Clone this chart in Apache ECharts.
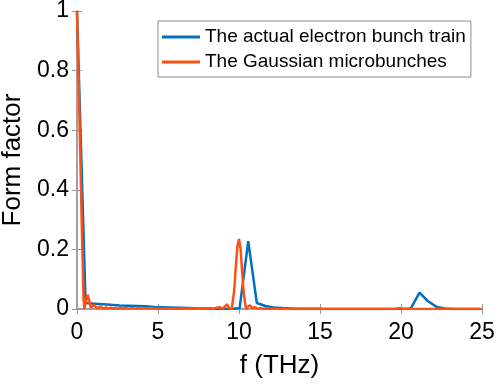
<!DOCTYPE html>
<html>
<head>
<meta charset="utf-8">
<script src="https://cdn.jsdelivr.net/npm/echarts@6/dist/echarts.min.js"></script>
<style>html,body{margin:0;padding:0;background:#fff;}#c{width:498px;height:386px;}</style>
</head>
<body>
<div id="c"></div>
<script>
var seriesNames = ['The actual electron bunch train', 'The Gaussian microbunches'];
var xTicks = [0, 5, 10, 15, 20, 25];
var yTicks = [0, 0.2, 0.4, 0.6, 0.8, 1];

var blueF = [0, 0.53, 1.06, 1.59, 2.11, 2.64, 3.17, 3.70, 4.23, 4.76, 5.29, 5.81, 6.34, 6.87, 7.40, 7.93, 8.46, 8.99, 9.51, 10.04, 10.57, 11.10, 11.63, 12.16, 12.68, 13.21, 13.74, 14.27, 14.80, 15.33, 15.86, 16.39, 16.91, 17.44, 17.97, 18.50, 19.03, 19.56, 20.08, 20.61, 21.14, 21.67, 22.20, 22.72, 23.25, 23.78, 24.31, 24.84];
var blueV = [1, 0.02, 0.018, 0.016, 0.014, 0.012, 0.011, 0.01, 0.009, 0.007, 0.006, 0.005, 0.004, 0.003, 0.002, 0.0015, 0.001, 0.0005, 0.0, 0.003, 0.228, 0.02, 0.01, 0.005, 0.003, 0.002, 0.001, 0.001, 0.0005, 0, 0, 0, 0, 0, 0, 0, 0, 0, 0, 0.002, 0.055, 0.026, 0.007, 0.002, 0, 0, 0, 0];

var orangeF = [0, 0.1, 0.2, 0.3, 0.4, 0.45, 0.55, 0.65, 0.75, 0.85, 0.95, 1.05, 1.15, 1.25, 1.35, 1.45, 1.55, 1.65, 1.8, 1.95, 2.1, 2.25, 2.4, 2.55, 2.7, 2.85, 3.0, 3.2, 3.4, 3.6, 3.8, 4.0, 4.2, 4.4, 4.6, 4.8, 5.0, 5.2, 5.4, 5.6, 5.8, 6.0, 6.2, 6.4, 6.6, 6.8, 7.0, 7.2, 7.4, 7.6, 7.8, 8.0, 8.2, 8.4, 8.6, 8.8, 9.0, 9.1, 9.25, 9.4, 9.55, 9.7, 9.8, 9.9, 10.0, 10.1, 10.2, 10.3, 10.43, 10.55, 10.7, 10.85, 11.0, 11.15, 11.3, 11.5, 11.7, 11.9, 12.1, 12.5, 13, 14, 15, 16, 17, 18, 19, 19.6, 19.9, 20.2, 21, 22, 23, 24, 25];
var orangeV = [1, 0.77, 0.52, 0.27, 0.04, 0.0, 0.025, 0.048, 0.03, 0.004, 0.002, 0.014, 0.012, 0.002, 0.001, 0.008, 0.007, 0.001, 0.006, 0.001, 0.005, 0.001, 0.004, 0.001, 0.004, 0.001, 0.003, 0.001, 0.003, 0.001, 0.003, 0.001, 0.003, 0.001, 0.003, 0.001, 0.002, 0.0005, 0.002, 0.0005, 0.002, 0.0005, 0.002, 0.0005, 0.002, 0.0005, 0.002, 0.0005, 0.002, 0.0005, 0.003, 0.0005, 0.003, 0.0005, 0.004, 0.006, 0.001, 0.004, 0.016, 0.003, 0.0, 0.06, 0.14, 0.21, 0.235, 0.2, 0.12, 0.05, 0.0, 0.008, 0.012, 0.002, 0.006, 0.001, 0.003, 0.001, 0.002, 0.0005, 0.001, 0, 0, 0, 0, 0, 0, 0, 0, 0, 0.003, 0, 0, 0, 0, 0, 0];

function pairs(f, v) { return f.map(function (x, i) { return [x, v[i]]; }); }

var axisGray = '#9a9a9a';
var font = 'Liberation Sans, Arial, sans-serif';

var chart = echarts.init(document.getElementById('c'), null, { renderer: 'canvas' });
chart.setOption({
  animation: false,
  backgroundColor: '#fff',
  grid: { left: 77, right: 16, top: 11, bottom: 77, containLabel: false, outerBoundsMode: 'none' },
  legend: {
    left: 158, top: 21,
    orient: 'vertical',
    backgroundColor: '#fff',
    borderColor: '#8a8a8a', borderWidth: 1,
    padding: [6, 5, 5, 4],
    itemGap: 5,
    itemWidth: 38, itemHeight: 3,
    icon: 'rect',
    textStyle: { fontFamily: font, fontSize: 19, lineHeight: 20, color: '#000', padding: [0, 0, 0, 0] },
    data: seriesNames
  },
  xAxis: [{
    type: 'value', min: xTicks[0], max: xTicks[xTicks.length - 1], interval: 5,
    name: 'f (THz)', nameLocation: 'middle', nameGap: 44,
    nameTextStyle: { fontFamily: font, fontSize: 26, color: '#000' },
    axisLine: { show: true, lineStyle: { color: axisGray, width: 1.5 } },
    axisTick: { show: true, inside: true, length: 5, lineStyle: { color: axisGray } },
    axisLabel: { fontFamily: font, fontSize: 23, color: '#000', margin: 12 },
    splitLine: { show: false }
  }, {
    type: 'value', position: 'top', min: xTicks[0], max: xTicks[xTicks.length - 1], interval: 5,
    axisLine: { show: true, lineStyle: { color: axisGray, width: 1.5 } },
    axisTick: { show: true, inside: true, length: 5, lineStyle: { color: axisGray } },
    axisLabel: { show: false }, splitLine: { show: false }
  }],
  yAxis: [{
    type: 'value', min: yTicks[0], max: yTicks[yTicks.length - 1], interval: 0.2,
    name: 'Form factor', nameLocation: 'middle', nameGap: 51,
    nameTextStyle: { fontFamily: font, fontSize: 26, color: '#000' },
    axisLine: { show: true, lineStyle: { color: axisGray, width: 1.5 } },
    axisTick: { show: true, inside: true, length: 5, lineStyle: { color: axisGray } },
    axisLabel: { fontFamily: font, fontSize: 23, color: '#000', margin: 8 },
    splitLine: { show: false }
  }, {
    type: 'value', position: 'right', min: yTicks[0], max: yTicks[yTicks.length - 1], interval: 0.2,
    axisLine: { show: true, lineStyle: { color: axisGray, width: 1.5 } },
    axisTick: { show: true, inside: true, length: 5, lineStyle: { color: axisGray } },
    axisLabel: { show: false }, splitLine: { show: false }
  }],
  series: [{
    name: seriesNames[0], type: 'line', data: pairs(blueF, blueV),
    showSymbol: false, symbol: 'none',
    lineStyle: { color: '#0072BD', width: 2.5 }, itemStyle: { color: '#0072BD' }
  }, {
    name: seriesNames[1], type: 'line', data: pairs(orangeF, orangeV),
    showSymbol: false, symbol: 'none',
    lineStyle: { color: '#FF5014', width: 2.5 }, itemStyle: { color: '#FF5014' }
  }]
});
</script>
</body>
</html>
